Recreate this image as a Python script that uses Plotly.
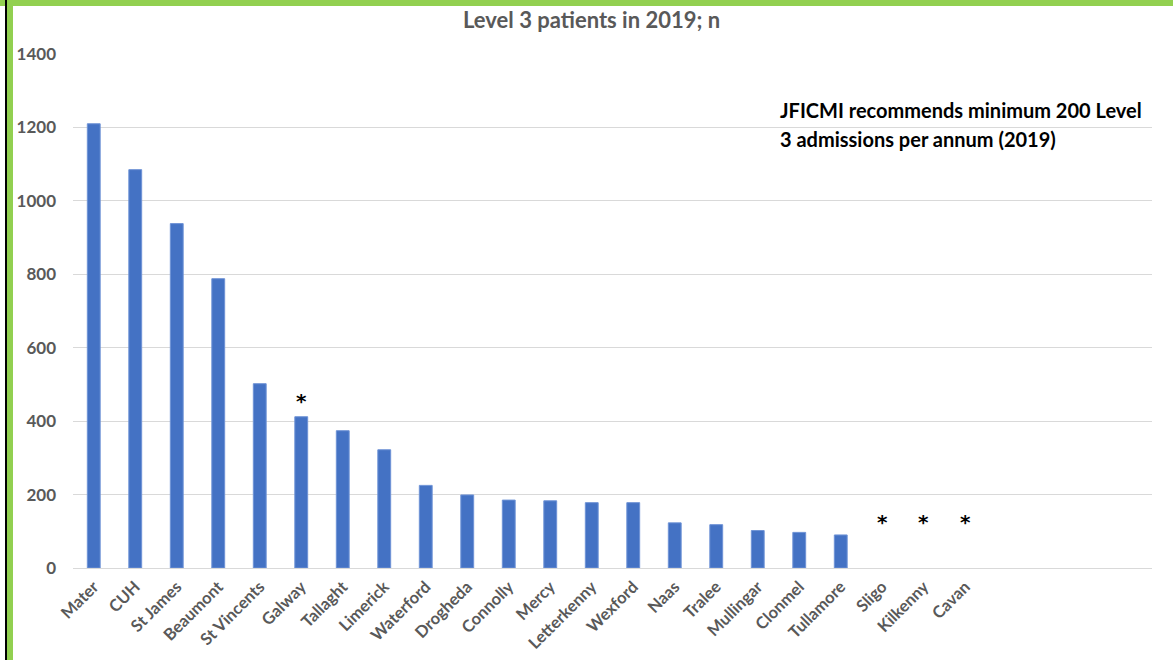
import plotly.graph_objects as go

hospitals = ["Mater", "CUH", "St James", "Beaumont", "St Vincents", "Galway", "Tallaght",
             "Limerick", "Waterford", "Drogheda", "Connolly", "Mercy", "Letterkenny", "Wexford",
             "Naas", "Tralee", "Mullingar", "Clonmel", "Tullamore", "Sligo", "Kilkenny", "Cavan"]
patients = [1210, 1085, 938, 788, 502, 412, 374, 322, 225, 199, 185, 183, 178, 178,
            123, 118, 102, 97, 90, None, None, None]
# categories marked with an asterisk and the height of the asterisk
star_cats = ["Galway", "Sligo", "Kilkenny", "Cavan"]
star_y = [455, 124, 124, 124]
blank_slots = ["", " ", "  ", "   "]

cats = hospitals + blank_slots
vals = patients + [None] * len(blank_slots)

W, H = 1173, 660
L, R, T, B = 73, 21, 54, 92
pw = W - L - R
ph = H - T - B

def px(x):
    return (x - L) / pw

def py(y):
    return 1 - (y - T) / ph

fig = go.Figure()
fig.add_trace(go.Bar(x=cats, y=vals, marker=dict(color="#4472C4", line=dict(color="#6F93D6", width=1)),
                     width=0.31, hoverinfo="x+y"))

for c, y in zip(star_cats, star_y):
    fig.add_annotation(x=c, y=y, text="<b>*</b>", showarrow=False, xref="x", yref="y",
                       font=dict(family="DejaVu Sans", size=20, color="#000000"))

fig.add_annotation(x=px(778), y=py(110), xref="paper", yref="paper", xanchor="left", yanchor="middle",
                   text="<b>JFICMI recommends minimum 200 Level</b>", showarrow=False, align="left",
                   font=dict(family="Lato", size=20, color="#000000"))
fig.add_annotation(x=px(778), y=py(139), xref="paper", yref="paper", xanchor="left", yanchor="middle",
                   text="<b>3 admissions per annum (2019)</b>", showarrow=False, align="left",
                   font=dict(family="Lato", size=20, color="#000000"))

fig.add_annotation(x=px(591), y=py(19), xref="paper", yref="paper", xanchor="center", yanchor="middle",
                   text="<b>Level 3 patients in 2019; n</b>", showarrow=False,
                   font=dict(family="Lato", size=22, color="#595959"))

# frame decorations
shapes = [
    dict(type="rect", xref="paper", yref="paper", x0=px(0), x1=px(W), y0=py(0), y1=py(6),
         fillcolor="#92D050", line=dict(width=0), layer="above"),
    dict(type="rect", xref="paper", yref="paper", x0=px(5), x1=px(7), y0=py(0), y1=py(H),
         fillcolor="#000000", line=dict(width=0), layer="above"),
    dict(type="rect", xref="paper", yref="paper", x0=px(7), x1=px(13), y0=py(0), y1=py(H),
         fillcolor="#92D050", line=dict(width=0), layer="above"),
]

fig.update_layout(
    width=W, height=H,
    margin=dict(l=L, r=R, t=T, b=B, autoexpand=False),
    paper_bgcolor="white", plot_bgcolor="white",
    showlegend=False,
    shapes=shapes,
    xaxis=dict(type="category", range=[-0.5, len(cats) - 0.5], tickangle=-45, automargin=False,
               showgrid=False, showline=False, zeroline=False, ticks="",
               tickfont=dict(family="Lato", size=16.5, color="#595959"),
               tickprefix="<b>", ticksuffix="</b>", ticklabelstandoff=5),
    yaxis=dict(range=[0, 1400], dtick=200, showgrid=True, gridcolor="#D9D9D9", gridwidth=1,
               automargin=False,
               zeroline=True, zerolinecolor="#D9D9D9", zerolinewidth=1, showline=False, ticks="",
               tickfont=dict(family="Lato", size=17, color="#595959"),
               tickprefix="<b>", ticksuffix="</b>", ticklabelstandoff=16),
)

fig.write_html("out.html", config={"displayModeBar": False},
               post_script="document.body.style.margin='0';document.body.style.overflow='hidden';")
